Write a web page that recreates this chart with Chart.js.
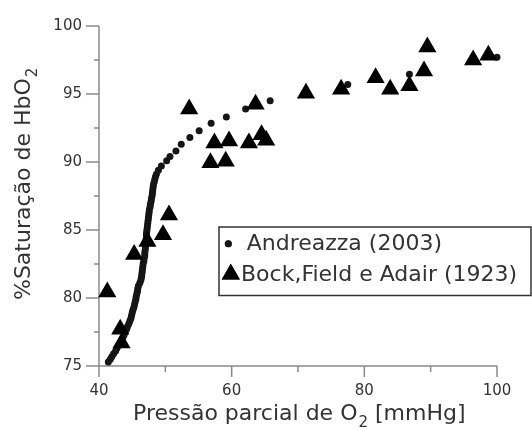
<!DOCTYPE html>
<html>
<head>
<meta charset="utf-8">
<script src="https://cdn.jsdelivr.net/npm/chart.js@4/dist/chart.umd.min.js"></script>
<style>
  body { margin: 0; background: #fff; }
  #wrap { width: 532px; height: 429px; }
</style>
</head>
<body>
<div id="wrap"><canvas id="myChart" width="532" height="429"></canvas></div>
<script>
// Andreazza (2003) - dotted curve
var andreazzaX = [41.4, 41.7, 41.95, 42.2, 42.5, 42.7, 42.95, 43.15, 43.4, 43.6, 43.8, 43.95, 44.15, 44.3, 44.5, 44.65, 44.8, 44.9, 45.0, 45.1,
                  45.25, 45.35, 45.45, 45.55, 45.6, 45.7, 45.8, 45.85, 45.95, 46.15, 46.3, 46.4, 46.45, 46.5, 46.55, 46.6, 46.65, 46.75, 46.8, 46.9,
                  46.9, 46.95, 47.0, 47.05, 47.05, 47.1, 47.15, 47.15, 47.2, 47.25, 47.3, 47.35, 47.4, 47.45, 47.5, 47.55, 47.6, 47.7, 47.75, 47.85,
                  47.9, 48.0, 48.05, 48.1, 48.15, 48.2, 48.3, 48.4, 48.5, 48.65, 48.95, 49.4, 50.2, 50.7, 51.6, 52.4, 53.7, 55.1, 56.9, 59.2,
                  62.1, 65.8, 70.9, 77.5, 86.8, 100];
var andreazzaY = [75.3, 75.5, 75.7, 75.9, 76.1, 76.3, 76.5, 76.7, 76.9, 77.1, 77.3, 77.5, 77.7, 77.9, 78.1, 78.3, 78.5, 78.7, 78.9, 79.1,
                  79.3, 79.5, 79.7, 79.9, 80.1, 80.3, 80.5, 80.7, 80.9, 81.1, 81.3, 81.5, 81.7, 81.9, 82.1, 82.3, 82.5, 82.7, 82.9, 83.1,
                  83.3, 83.5, 83.7, 83.9, 84.1, 84.3, 84.5, 84.7, 84.9, 85.1, 85.3, 85.5, 85.7, 85.9, 86.1, 86.3, 86.5, 86.7, 86.9, 87.1,
                  87.3, 87.5, 87.7, 87.9, 88.1, 88.3, 88.5, 88.7, 88.9, 89.1, 89.4, 89.7, 90.1, 90.4, 90.8, 91.3, 91.8, 92.3, 92.85, 93.3,
                  93.9, 94.5, 95.0, 95.7, 96.45, 97.7];

// Bock, Field e Adair (1923) - triangles
var bockX = [41.25, 43.2, 43.4, 45.3, 47.3, 49.65, 50.55, 53.6, 56.8, 59.1, 57.4, 59.6, 62.6, 63.6, 64.5, 65.2, 71.2, 76.5, 81.7, 83.9, 86.8, 89.0, 89.5, 96.4, 98.7];
var bockY = [80.45, 77.7, 76.7, 83.2, 84.15, 84.65, 86.1, 93.9, 89.95, 90.05, 91.4, 91.55, 91.4, 94.25, 92.0, 91.6, 95.05, 95.35, 96.2, 95.35, 95.6, 96.7, 98.45, 97.5, 97.85];

var seriesNames = ["Andreazza (2003)", "Bock,Field e Adair (1923)"];
var xTitle = ["Pressão parcial de O", "2", " [mmHg]"];
var yTitle = ["%Saturação de HbO", "2"];

var xMin = 40, xMax = 100, xStep = 10;
var yMin = 75, yMax = 100, yStep = 2.5;

function toPoints(xs, ys) {
  var pts = [];
  for (var i = 0; i < xs.length; i++) pts.push({ x: xs[i], y: ys[i] });
  return pts;
}

var FONT = "'DejaVu Sans', Verdana, sans-serif";
var axisColor = '#8a8a8a';
var textColor = '#333';

// axis lines with long/short ticks
var axesPlugin = {
  id: 'axesPlugin',
  beforeDatasetsDraw: function(chart) {
    var ctx = chart.ctx, xs = chart.scales.x, ys = chart.scales.y, a = chart.chartArea;
    ctx.save();
    ctx.strokeStyle = axisColor;
    ctx.lineWidth = 1.5;
    ctx.beginPath();
    ctx.moveTo(a.left, a.top);
    ctx.lineTo(a.left, a.bottom);
    ctx.lineTo(a.right, a.bottom);
    ys.ticks.forEach(function(t) {
      var py = ys.getPixelForValue(t.value);
      var len = (t.value % 5 === 0) ? 13 : 5;
      ctx.moveTo(a.left - len, py);
      ctx.lineTo(a.left, py);
    });
    xs.ticks.forEach(function(t) {
      var px = xs.getPixelForValue(t.value);
      var len = (t.value % 20 === 0) ? 11 : 6;
      ctx.moveTo(px, a.bottom);
      ctx.lineTo(px, a.bottom + len);
    });
    ctx.stroke();
    ctx.restore();
  }
};

// axis titles with subscripts + boxed legend
var textPlugin = {
  id: 'textPlugin',
  afterDraw: function(chart) {
    var ctx = chart.ctx, a = chart.chartArea;
    ctx.save();
    ctx.fillStyle = textColor;
    ctx.textBaseline = 'alphabetic';
    ctx.textAlign = 'left';

    // x title
    var x0 = a.left + 34, by = 420;
    ctx.font = '22px ' + FONT;
    ctx.fillText(xTitle[0], x0, by);
    var w = ctx.measureText(xTitle[0]).width;
    ctx.font = '15px ' + FONT;
    ctx.fillText(xTitle[1], x0 + w + 1, by + 7);
    var w2 = ctx.measureText(xTitle[1]).width;
    ctx.font = '22px ' + FONT;
    ctx.fillText(xTitle[2], x0 + w + w2 + 1, by);

    // y title
    ctx.save();
    ctx.translate(30, 300);
    ctx.rotate(-Math.PI / 2);
    ctx.font = '22px ' + FONT;
    ctx.fillText(yTitle[0], 0, 0);
    w = ctx.measureText(yTitle[0]).width;
    ctx.font = '15px ' + FONT;
    ctx.fillText(yTitle[1], w + 1, 7);
    ctx.restore();

    // legend
    ctx.strokeStyle = '#333';
    ctx.lineWidth = 1.5;
    ctx.strokeRect(219, 227, 312, 68.5);
    var ds = chart.data.datasets;
    Chart.helpers.drawPoint(ctx, {
      pointStyle: ds[0].pointStyle, radius: ds[0].pointRadius, borderWidth: 0
    }, 228.3, 243.7);
    ctx.fillStyle = ds[0].backgroundColor;
    ctx.fill();
    Chart.helpers.drawPoint(ctx, {
      pointStyle: ds[1].pointStyle, radius: ds[1].pointRadius, borderWidth: 0
    }, 230.8, 274.2);
    ctx.fillStyle = ds[1].backgroundColor;
    ctx.fill();
    ctx.fillStyle = textColor;
    ctx.font = '22px ' + FONT;
    ctx.fillText(ds[0].label, 246.7, 250);
    ctx.fillText(ds[1].label, 241, 280.5);
    ctx.restore();
  }
};

var ctx = document.getElementById("myChart");
var myChart = new Chart(ctx, {
  type: 'scatter',
  data: {
    datasets: [{
      label: seriesNames[0],
      data: toPoints(andreazzaX, andreazzaY),
      pointStyle: 'circle',
      pointRadius: 3.5,
      backgroundColor: '#151515',
      borderWidth: 0,
      order: 2,
      clip: false
    }, {
      label: seriesNames[1],
      data: toPoints(bockX, bockY),
      pointStyle: 'triangle',
      pointRadius: 10.5,
      backgroundColor: '#000',
      borderWidth: 0,
      order: 1,
      clip: false
    }]
  },
  options: {
    responsive: false,
    animation: false,
    devicePixelRatio: 1,
    layout: { padding: { left: 0, top: 19, right: 35, bottom: 0 } },
    plugins: {
      legend: { display: false },
      tooltip: { enabled: false }
    },
    scales: {
      x: {
        type: 'linear',
        min: xMin, max: xMax,
        border: { display: false },
        grid: { display: false, drawTicks: false },
        ticks: {
          stepSize: xStep,
          padding: 16,
          color: textColor,
          font: { family: FONT, size: 15 },
          maxRotation: 0,
          callback: function(v) { return v % 20 === 0 ? v : ''; }
        },
        afterFit: function(s) { s.height = 63; }
      },
      y: {
        type: 'linear',
        min: yMin, max: yMax,
        border: { display: false },
        grid: { display: false, drawTicks: false },
        ticks: {
          stepSize: yStep,
          padding: 17,
          color: textColor,
          font: { family: FONT, size: 15 },
          callback: function(v) { return v % 5 === 0 ? v : ''; }
        },
        afterFit: function(s) { s.width = 99; }
      }
    }
  },
  plugins: [axesPlugin, textPlugin]
});
</script>
</body>
</html>
